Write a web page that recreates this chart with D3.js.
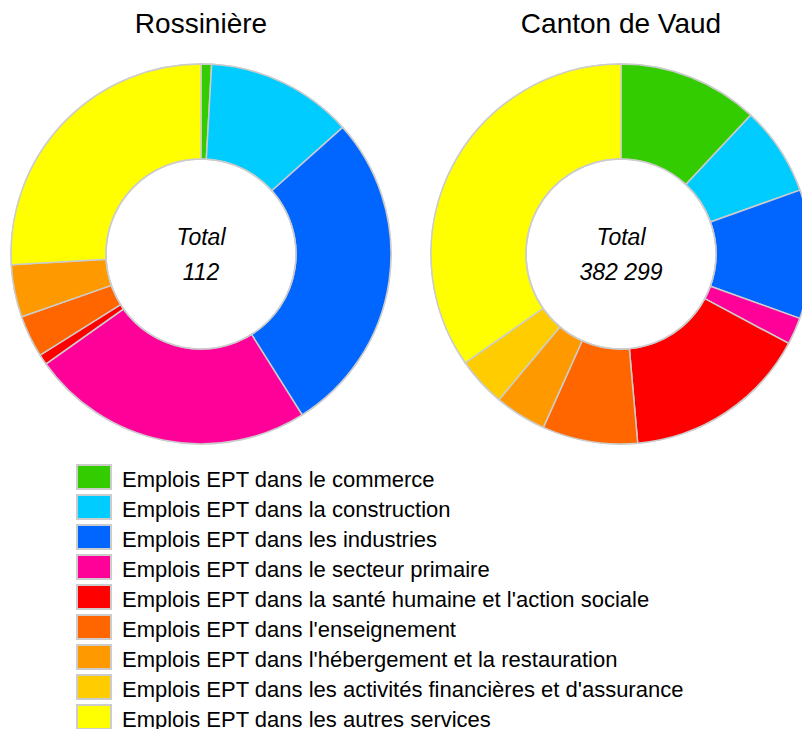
<!DOCTYPE html>
<html lang="fr">
<head>
    <meta charset="UTF-8">
    <style>
        body { margin: 0; background: #fff; }
        svg { display: block; font-family: "Liberation Sans", Arial, sans-serif; }
    </style>
    <script src="https://cdnjs.cloudflare.com/ajax/libs/d3/7.8.5/d3.min.js"></script>
    <title>Emplois EPT</title>
</head>
<body>
    <div id="chart"></div>
    <script>
        var categories = [
            "Emplois EPT dans le commerce",
            "Emplois EPT dans la construction",
            "Emplois EPT dans les industries",
            "Emplois EPT dans le secteur primaire",
            "Emplois EPT dans la santé humaine et l'action sociale",
            "Emplois EPT dans l'enseignement",
            "Emplois EPT dans l'hébergement et la restauration",
            "Emplois EPT dans les activités financières et d'assurance",
            "Emplois EPT dans les autres services"
        ];
        var colours = ["#33cc00", "#00ccff", "#0066ff", "#ff0099", "#ff0000", "#ff6600", "#ff9900", "#ffcc00", "#ffff00"];

        var titles = ["Rossinière", "Canton de Vaud"];
        var rossiniere = [1, 14, 31, 27, 1, 4, 5, 0, 29];
        var vaud = [45720, 28980, 41900, 8790, 60400, 30970, 16820, 16060, 132659];

        var width = 802,
            height = 729,
            outer = 190,
            inner = 95;

        var svg = d3.select('#chart').append('svg')
            .attr('width', width)
            .attr('height', height);

        var colour = d3.scaleOrdinal().domain(categories).range(colours);

        var arc = d3.arc().innerRadius(inner).outerRadius(outer);
        var pie = d3.pie().sort(null).value(function (d) { return d.value; });

        var fmt = function (n) { return d3.format(',')(n).replace(/,/g, ' '); };

        var centres = [201, 621];

        [rossiniere, vaud].forEach(function (values, k) {
            var data = categories.map(function (c, i) { return { name: c, value: values[i] }; });
            var total = d3.sum(values);

            svg.append('text')
                .attr('x', centres[k])
                .attr('y', 33)
                .attr('text-anchor', 'middle')
                .style('font-size', '28px')
                .text(titles[k]);

            var g = svg.append('g')
                .attr('transform', 'translate(' + centres[k] + ',254)');

            g.append('circle')
                .attr('r', outer)
                .attr('fill', 'none')
                .attr('stroke', '#cccccc')
                .attr('stroke-width', 1.5);

            g.selectAll('.arc')
                .data(pie(data).filter(function (d) { return d.value > 0; }))
                .enter()
                .append('path')
                .attr('class', 'arc')
                .attr('d', arc)
                .attr('fill', function (d) { return colour(d.data.name); })
                .attr('stroke', '#cccccc')
                .attr('stroke-width', 1.5);

            g.append('circle')
                .attr('r', inner)
                .attr('fill', 'none')
                .attr('stroke', '#cccccc')
                .attr('stroke-width', 1.5);

            g.append('text')
                .attr('y', -9)
                .attr('text-anchor', 'middle')
                .style('font-size', '23px')
                .style('font-style', 'italic')
                .text('Total');

            g.append('text')
                .attr('y', 26)
                .attr('text-anchor', 'middle')
                .style('font-size', '23px')
                .style('font-style', 'italic')
                .text(fmt(total));
        });

        var legend = svg.append('g')
            .attr('transform', 'translate(77, 465)')
            .selectAll('.legend')
            .data(categories)
            .enter()
            .append('g')
            .attr('transform', function (d, i) { return 'translate(0,' + i * 30 + ')'; });

        legend.append('rect')
            .attr('width', 34)
            .attr('height', 24)
            .attr('fill', function (d) { return colour(d); })
            .attr('stroke', '#cccccc')
            .attr('stroke-width', 2);

        legend.append('text')
            .attr('x', 45)
            .attr('y', 22)
            .style('font-size', '22px')
            .text(function (d) { return d; });
    </script>
</body>
</html>
